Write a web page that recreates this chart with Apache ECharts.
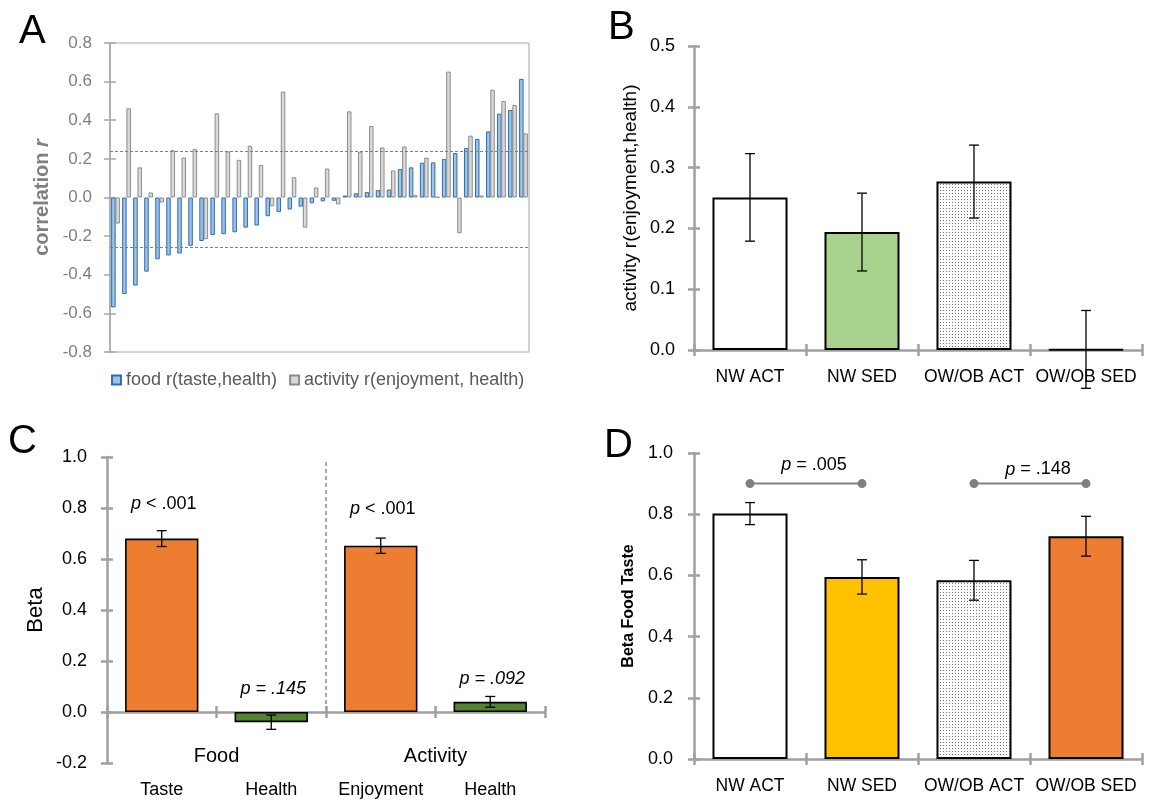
<!DOCTYPE html>
<html><head><meta charset="utf-8">
<script src="https://cdn.jsdelivr.net/npm/echarts@6/dist/echarts.min.js"></script>
<style>html,body{margin:0;padding:0;background:#fff}#c{width:1152px;height:800px}</style>
</head><body><div id="c"></div>
<script>
// ---------- DATA ----------
const aCategories = ['1','2','3','4','5','6','7','8','9','10','11','12','13','14','15','16','17','18','19','20','21','22','23','24','25','26','27','28','29','30','31','32','33','34','35','36','37','38'];
const foodR = [-0.569,-0.500,-0.456,-0.384,-0.320,-0.300,-0.290,-0.250,-0.225,-0.194,-0.190,-0.180,-0.156,-0.145,-0.097,-0.076,-0.062,-0.047,-0.030,-0.020,-0.017,0.010,0.022,0.028,0.038,0.041,0.147,0.156,0.180,0.182,0.199,0.230,0.256,0.303,0.342,0.434,0.453,0.614];
const activityR = [-0.135,0.462,0.156,0.026,-0.026,0.245,0.207,0.250,-0.216,0.436,0.239,0.195,0.268,0.168,-0.045,0.548,0.105,-0.156,0.052,0.150,-0.036,0.446,0.237,0.370,0.259,0.140,0.264,0.012,0.206,0.002,0.652,-0.185,0.320,0.010,0.558,0.500,0.479,0.332];
const aThresholds = [0.245, -0.26];
const aSeriesNames = ['food r(taste,health)', 'activity r(enjoyment, health)'];

const groupCategories = ['NW ACT', 'NW SED', 'OW/OB ACT', 'OW/OB SED'];
const bValues = [0.251, 0.194, 0.277, 0.001];
const bErrors = [0.072, 0.064, 0.060, 0.064];

const cCategories = ['Taste', 'Health', 'Enjoyment', 'Health'];
const cGroups = ['Food', 'Activity'];
const cValues = [0.680, -0.040, 0.652, 0.040];
const cErrors = [0.031, 0.028, 0.030, 0.021];
const cPText = ['p < .001', 'p = .145', 'p < .001', 'p = .092'];
const cPItalicAll = [false, true, false, true];
const cPLabelY = [0.817, 0.092, 0.797, 0.131];

const dValues = [0.802, 0.595, 0.584, 0.728];
const dErrors = [0.036, 0.056, 0.065, 0.065];
const dCompFrom = [0, 2];
const dCompTo = [1, 3];
const dCompText = ['p = .005', 'p = .148'];
const dCompLineY = [0.9, 0.9];
const dCompLabelY = [0.96, 0.946];

// ---------- STYLE ----------
const FF = 'Liberation Sans, Arial, sans-serif';
const AX = '#A0A0A0';
function dotPattern() {
  const c = document.createElement('canvas'); c.width = 3; c.height = 3;
  const g = c.getContext('2d');
  g.fillStyle = '#ffffff'; g.fillRect(0, 0, 3, 3);
  g.fillStyle = '#747474'; g.fillRect(1, 1, 1, 1);
  return { image: c, repeat: 'repeat' };
}
const PAT = dotPattern();
const bColors = ['#FFFFFF', '#A9D18E', PAT, '#FFFFFF'];
const cColors = ['#ED7D31', '#548235', '#ED7D31', '#548235'];
const dColors = ['#FFFFFF', '#FFC000', PAT, '#ED7D31'];

const grids = [
  { left: 110, top: 43, width: 419, height: 309, show: true, borderColor: '#A6A6A6', borderWidth: 1, outerBoundsMode: 'none', containLabel: false },
  { left: 694, top: 46, width: 448, height: 304, outerBoundsMode: 'none', containLabel: false },
  { left: 107, top: 457, width: 438, height: 306, outerBoundsMode: 'none', containLabel: false },
  { left: 694, top: 453, width: 448, height: 306, outerBoundsMode: 'none', containLabel: false }
];

const xAxes = [], yAxes = [];
function addY(gi, min, max, interval, o) {
  const base = { type: 'value', gridIndex: gi, position: 'left', min, max, interval, splitLine: { show: false } };
  yAxes.push(Object.assign({}, base, {
    axisLine: { show: true, lineStyle: { color: o.lineColor, width: o.lineWidth } },
    axisTick: { show: true, length: 6, lineStyle: { color: o.lineColor, width: o.lineWidth } },
    axisLabel: { color: o.labelColor, fontSize: o.fontSize, fontFamily: FF, margin: o.margin, formatter: v => v.toFixed(1) },
    name: o.name, nameLocation: 'middle', nameGap: o.nameGap, nameRotate: 90, nameTextStyle: o.nameStyle
  }));
  yAxes.push(Object.assign({}, base, {
    axisLine: { show: false }, axisLabel: { show: false },
    axisTick: { show: true, inside: true, length: 6, lineStyle: { color: o.lineColor, width: o.lineWidth } }
  }));
  return yAxes.length - 2;
}
function addX(gi, data, o) {
  const base = { type: 'category', gridIndex: gi, position: 'bottom', data };
  xAxes.push(Object.assign({}, base, {
    axisLine: { show: true, onZero: true, lineStyle: { color: AX, width: 2.5 } },
    axisTick: { show: true, length: 6, lineStyle: { color: AX, width: 2.5 } },
    axisLabel: { show: o.showLabel !== false, color: '#000', fontSize: o.fontSize, fontFamily: FF, margin: o.margin, interval: 0 }
  }));
  xAxes.push(Object.assign({}, base, {
    axisLine: { show: false, onZero: true }, axisLabel: { show: false },
    axisTick: { show: true, inside: true, length: 6, lineStyle: { color: AX, width: 2.5 } }
  }));
  return xAxes.length - 2;
}

// Panel A axes
xAxes.push({ type: 'category', gridIndex: 0, position: 'bottom', data: aCategories,
  axisLine: { show: false }, axisTick: { show: false }, axisLabel: { show: false } });
const xa = 0;
const ya = addY(0, -0.8, 0.8, 0.2, { lineColor: '#A6A6A6', lineWidth: 1.5, labelColor: '#7F7F7F', fontSize: 17, margin: 18,
  name: '{b|correlation }{bi|r}', nameGap: 58,
  nameStyle: { rich: { b: { fontSize: 20, fontWeight: 'bold', color: '#7F7F7F', fontFamily: FF }, bi: { fontSize: 20, fontWeight: 'bold', fontStyle: 'italic', color: '#7F7F7F', fontFamily: FF } } } });
// Panel B
const xb = addX(1, groupCategories, { fontSize: 17.5, margin: 18 });
const yb = addY(1, 0, 0.5, 0.1, { lineColor: AX, lineWidth: 2.5, labelColor: '#000', fontSize: 18, margin: 19,
  name: 'activity r(enjoyment,health)', nameGap: 54, nameStyle: { fontSize: 19, color: '#000', fontFamily: FF } });
// Panel C (category labels drawn below by a custom series)
const xc = addX(2, cCategories, { showLabel: false, fontSize: 18, margin: 69 });
const yc = addY(2, -0.2, 1.0, 0.2, { lineColor: AX, lineWidth: 2.5, labelColor: '#000', fontSize: 18, margin: 20,
  name: 'Beta', nameGap: 60, nameStyle: { fontSize: 22, color: '#000', fontFamily: FF } });
// Panel D
const xd = addX(3, groupCategories, { fontSize: 17.5, margin: 18 });
const yd = addY(3, 0, 1.0, 0.2, { lineColor: AX, lineWidth: 2.5, labelColor: '#000', fontSize: 18, margin: 21,
  name: 'Beta Food Taste', nameGap: 57, nameStyle: { fontSize: 16, fontWeight: 'bold', color: '#000', fontFamily: FF } });

function errSeries(xi, yi, values, errors, hw) {
  return {
    type: 'custom', xAxisIndex: xi, yAxisIndex: yi, z: 10, silent: true,
    data: values.map((v, i) => [i, v, errors[i]]),
    encode: { x: 0, y: 1 },
    renderItem: function (params, api) {
      const i = api.value(0), v = api.value(1), e = api.value(2);
      const hi = api.coord([i, v + e]), lo = api.coord([i, v - e]);
      const st = { stroke: '#000', lineWidth: 1.3 };
      return { type: 'group', children: [
        { type: 'line', shape: { x1: hi[0], y1: hi[1], x2: lo[0], y2: lo[1] }, style: st },
        { type: 'line', shape: { x1: hi[0] - hw, y1: hi[1], x2: hi[0] + hw, y2: hi[1] }, style: st },
        { type: 'line', shape: { x1: lo[0] - hw, y1: lo[1], x2: lo[0] + hw, y2: lo[1] }, style: st }
      ] };
    }
  };
}
function pText(text, italicAll, x, y, size) {
  const base = { text: text, fontSize: size, fontFamily: FF, fill: '#000', align: 'center', verticalAlign: 'middle' };
  if (italicAll) base.fontStyle = 'italic';
  else {
    base.text = '{i|' + text.charAt(0) + '}' + text.slice(1);
    base.rich = { i: { fontStyle: 'italic', fontSize: size, fontFamily: FF, fill: '#000' } };
  }
  return { type: 'text', x: x, y: y, style: base };
}

const series = [
  { name: aSeriesNames[0], type: 'bar', xAxisIndex: xa, yAxisIndex: ya, data: foodR, barWidth: 4.5, barGap: '-5%',
    itemStyle: { color: '#9DC3E6', borderColor: '#2E6DB0', borderWidth: 1 },
    markLine: { silent: true, symbol: 'none', label: { show: false },
      lineStyle: { type: [3, 2], color: '#7F7F7F', width: 1 },
      data: aThresholds.map(v => ({ yAxis: v })) } },
  { name: aSeriesNames[1], type: 'bar', xAxisIndex: xa, yAxisIndex: ya, data: activityR, barWidth: 4.5,
    itemStyle: { color: '#D9D9D9', borderColor: '#8C8C8C', borderWidth: 1 } },

  { type: 'bar', xAxisIndex: xb, yAxisIndex: yb, barWidth: '67%',
    data: bValues.map((v, i) => ({ value: v, itemStyle: { color: bColors[i] } })),
    itemStyle: { borderColor: '#000', borderWidth: 2 } },
  errSeries(xb, yb, bValues, bErrors, 5),

  { type: 'bar', xAxisIndex: xc, yAxisIndex: yc, barWidth: '67%',
    data: cValues.map((v, i) => ({ value: v, itemStyle: { color: cColors[i] } })),
    itemStyle: { borderColor: '#000', borderWidth: 1.6 } },
  errSeries(xc, yc, cValues, cErrors, 5),
  { type: 'custom', xAxisIndex: xc, yAxisIndex: yc, z: 11, silent: true,
    data: cPText.map((t, i) => [i, cPLabelY[i]]), encode: { x: 0, y: 1 },
    renderItem: function (params, api) {
      const i = params.dataIndex;
      const p = api.coord([api.value(0), api.value(1)]);
      return pText(cPText[i], cPItalicAll[i], p[0] + 2, p[1], 18);
    } },
  { type: 'custom', xAxisIndex: xc, yAxisIndex: yc, z: 11, silent: true,
    data: cCategories.map((c, i) => [i, 0]), encode: { x: 0, y: 1 },
    renderItem: function (params, api) {
      const i = params.dataIndex;
      const p = api.coord([i, 0]);
      return { type: 'text', x: p[0], y: p[1] + 78,
        style: { text: cCategories[i], fontSize: 18, fontFamily: FF, fill: '#000', align: 'center', verticalAlign: 'middle' } };
    } },
  { type: 'custom', xAxisIndex: xc, yAxisIndex: yc, z: 11, silent: true,
    data: cGroups.map((g, i) => [i * 2, 0]), encode: { x: 0, y: 1 },
    renderItem: function (params, api) {
      const i = params.dataIndex;
      const a = api.coord([i * 2, 0]), b = api.coord([i * 2 + 1, 0]);
      return { type: 'text', x: (a[0] + b[0]) / 2, y: a[1] + 44,
        style: { text: cGroups[i], fontSize: 20, fontFamily: FF, fill: '#000', align: 'center', verticalAlign: 'middle' } };
    } },
  { type: 'custom', xAxisIndex: xc, yAxisIndex: yc, z: 11, silent: true,
    data: [[1, 0]], encode: { x: 0, y: 1 },
    renderItem: function (params, api) {
      const a = api.coord([1, 0.98]), b = api.coord([2, 0]);
      const x = (a[0] + b[0]) / 2;
      return { type: 'line', shape: { x1: x, y1: a[1], x2: x, y2: b[1] - 4 },
        style: { stroke: '#8C8C8C', lineWidth: 1.5, lineDash: [4, 3] } };
    } },

  { type: 'bar', xAxisIndex: xd, yAxisIndex: yd, barWidth: '67%',
    data: dValues.map((v, i) => ({ value: v, itemStyle: { color: dColors[i] } })),
    itemStyle: { borderColor: '#000', borderWidth: 2 } },
  errSeries(xd, yd, dValues, dErrors, 5),
  { type: 'custom', xAxisIndex: xd, yAxisIndex: yd, z: 11, silent: true,
    data: dCompFrom.map((f, i) => [f, dCompLineY[i]]), encode: { x: 0, y: 1 },
    renderItem: function (params, api) {
      const i = params.dataIndex;
      const a = api.coord([dCompFrom[i], dCompLineY[i]]), b = api.coord([dCompTo[i], dCompLineY[i]]);
      const t = api.coord([dCompFrom[i], dCompLabelY[i]]);
      const g = '#808080';
      return { type: 'group', children: [
        { type: 'line', shape: { x1: a[0], y1: a[1], x2: b[0], y2: b[1] }, style: { stroke: g, lineWidth: 2 } },
        { type: 'circle', shape: { cx: a[0], cy: a[1], r: 4.5 }, style: { fill: g } },
        { type: 'circle', shape: { cx: b[0], cy: b[1], r: 4.5 }, style: { fill: g } },
        pText(dCompText[i], false, (a[0] + b[0]) / 2 + 8, t[1], 18)
      ] };
    } }
];

const chart = echarts.init(document.getElementById('c'));
chart.setOption({
  animation: false,
  backgroundColor: '#fff',
  grid: grids,
  xAxis: xAxes,
  yAxis: yAxes,
  legend: { data: aSeriesNames, left: 106, top: 366, icon: 'rect', itemWidth: 9, itemHeight: 9, itemGap: 12,
    textStyle: { color: '#595959', fontSize: 18, fontFamily: FF } },
  graphic: [
    { type: 'text', left: 19, top: 12, style: { text: 'A', fontSize: 40, fontFamily: FF, fill: '#000' } },
    { type: 'text', left: 608, top: 8, style: { text: 'B', fontSize: 40, fontFamily: FF, fill: '#000' } },
    { type: 'text', left: 8, top: 422, style: { text: 'C', fontSize: 40, fontFamily: FF, fill: '#000' } },
    { type: 'text', left: 604, top: 426, style: { text: 'D', fontSize: 40, fontFamily: FF, fill: '#000' } }
  ],
  series: series
});
</script></body></html>
